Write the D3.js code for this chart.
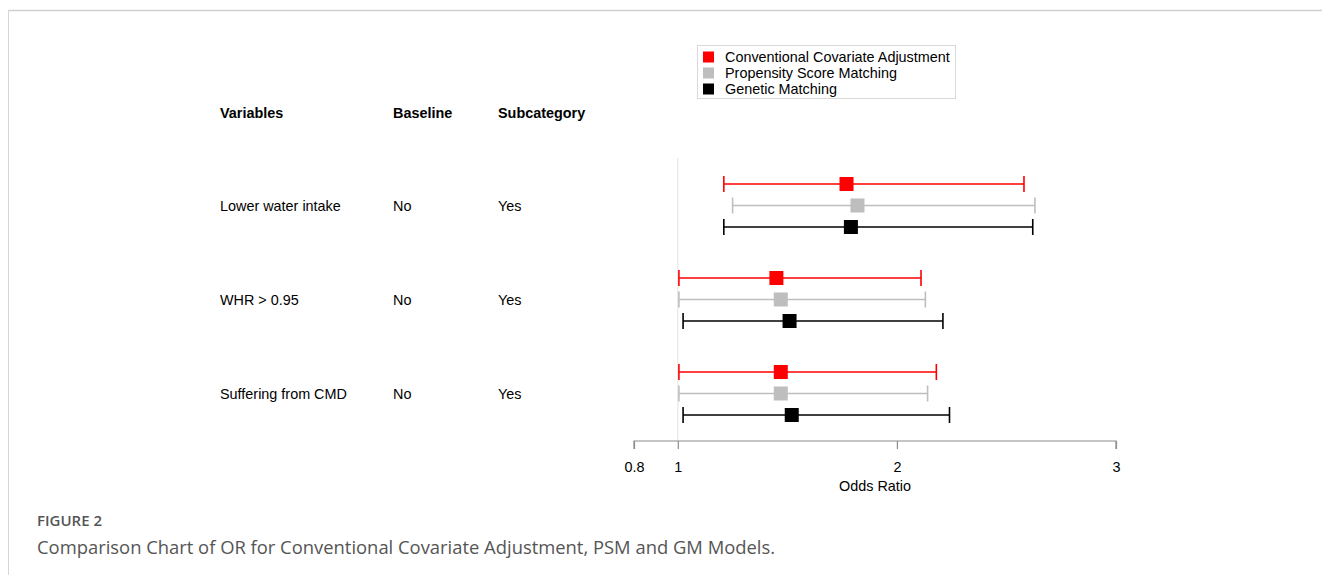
<!DOCTYPE html>
<html>
<head>
<meta charset="utf-8">
<script src="https://cdn.jsdelivr.net/npm/d3@7"></script>
<style>
  html, body { margin: 0; padding: 0; background: #fff; }
  svg { display: block; }
</style>
</head>
<body>
<svg id="chart" width="1322" height="575"></svg>
<script>
// ---------------- data ----------------
const variables   = ["Lower water intake", "WHR > 0.95", "Suffering from CMD"];
const baselines   = ["No", "No", "No"];
const subcats     = ["Yes", "Yes", "Yes"];
const seriesNames = ["Conventional Covariate Adjustment", "Propensity Score Matching", "Genetic Matching"];
// odds ratio point estimates per series (order of variables)
const orCCA   = [1.77, 1.45, 1.47];
const orPSM   = [1.82, 1.47, 1.47];
const orGM    = [1.79, 1.51, 1.52];
// lower 95% CI
const lowCCA  = [1.21, 1.005, 1.005];
const lowPSM  = [1.25, 1.005, 1.005];
const lowGM   = [1.21, 1.024, 1.024];
// upper 95% CI
const highCCA = [2.58, 2.11, 2.18];
const highPSM = [2.63, 2.13, 2.14];
const highGM  = [2.62, 2.21, 2.24];
const tickValues = [0.8, 1, 2, 3];
const headers = ["Variables", "Baseline", "Subcategory"];
const axisTitle = "Odds Ratio";
const figLabel = "FIGURE 2";
const caption = "Comparison Chart of OR for Conventional Covariate Adjustment, PSM and GM Models.";

// ---------------- build ----------------
const seriesColors = ["#ff0000", "#bebebe", "#000000"];
const estimates = [orCCA, orPSM, orGM];
const lows = [lowCCA, lowPSM, lowGM];
const highs = [highCCA, highPSM, highGM];

const rows = [];
variables.forEach((v, i) => {
  seriesNames.forEach((s, j) => {
    rows.push({ variable: v, series: s, color: seriesColors[j],
                or: estimates[j][i], lo: lows[j][i], hi: highs[j][i] });
  });
});

const svg = d3.select("#chart");
const FONT = "'Liberation Sans', Arial, Helvetica, sans-serif";
const FS = 14.4;

// page frame
svg.append("line").attr("x1", 8).attr("x2", 1322).attr("y1", 10.5).attr("y2", 10.5)
  .attr("stroke", "#cfcfcf").attr("stroke-width", 1.5);
svg.append("line").attr("x1", 8.5).attr("x2", 8.5).attr("y1", 10).attr("y2", 575)
  .attr("stroke", "#d6d6d6").attr("stroke-width", 1);

const x = d3.scaleLinear().domain([0.8, 3]).range([634, 1116]);
const yVar = d3.scalePoint().domain(variables).range([206, 394]);
const ySer = d3.scalePoint().domain(seriesNames).range([-22, 21]);

// column text positions
const colX = { var: 220, base: 393, sub: 498 };

// headers
const hdrX = [colX.var, colX.base, colX.sub];
svg.append("g").selectAll("text").data(headers).join("text")
  .attr("x", (d, i) => hdrX[i]).attr("y", 113).attr("dy", "0.35em")
  .attr("font-family", FONT).attr("font-size", FS).attr("font-weight", "bold")
  .attr("fill", "#000").text(d => d);

// row texts
const rowG = svg.append("g");
variables.forEach((v, i) => {
  const yy = yVar(v);
  [[colX.var, v], [colX.base, baselines[i]], [colX.sub, subcats[i]]].forEach(([xx, t]) => {
    rowG.append("text").attr("x", xx).attr("y", yy).attr("dy", "0.35em")
      .attr("font-family", FONT).attr("font-size", FS).attr("fill", "#000").text(t);
  });
});

// reference line at OR = 1
svg.append("line").attr("x1", x(1)).attr("x2", x(1)).attr("y1", 158).attr("y2", 441)
  .attr("stroke", "#e3e3e3").attr("stroke-width", 1);

// axis
const axisG = svg.append("g").attr("transform", "translate(0,441)")
  .call(d3.axisBottom(x).tickValues(tickValues).tickFormat(d3.format("~g"))
        .tickSize(8).tickSizeOuter(0).tickPadding(13));
axisG.select(".domain").attr("stroke", "#8c8c8c").attr("stroke-width", 1.2);
axisG.selectAll(".tick line").attr("stroke", "#8c8c8c").attr("stroke-width", 1.2);
axisG.selectAll(".tick text").attr("font-family", FONT).attr("font-size", FS).attr("fill", "#000");
axisG.selectAll(".domain").attr("d", `M${x(0.8)},8V0H${x(3)}V8`);

svg.append("text").attr("x", (x(0.8) + x(3)) / 2).attr("y", 486).attr("dy", "0.35em")
  .attr("text-anchor", "middle").attr("font-family", FONT).attr("font-size", FS)
  .attr("fill", "#000").text(axisTitle);

// CI lines
const cap = 8, sq = 14;
const marks = svg.append("g");
const g = marks.selectAll("g.ci").data(rows).join("g").attr("class", "ci")
  .attr("transform", d => `translate(0,${yVar(d.variable) + ySer(d.series)})`);
g.append("line").attr("x1", d => x(d.lo)).attr("x2", d => x(d.hi)).attr("y1", 0).attr("y2", 0)
  .attr("stroke", d => d.color).attr("stroke-width", 1.4);
g.append("line").attr("x1", d => x(d.lo)).attr("x2", d => x(d.lo)).attr("y1", -cap).attr("y2", cap)
  .attr("stroke", d => d.color).attr("stroke-width", 1.6);
g.append("line").attr("x1", d => x(d.hi)).attr("x2", d => x(d.hi)).attr("y1", -cap).attr("y2", cap)
  .attr("stroke", d => d.color).attr("stroke-width", 1.6);
g.append("rect").attr("x", d => x(d.or) - sq / 2).attr("y", -sq / 2)
  .attr("width", sq).attr("height", sq).attr("fill", d => d.color);

// legend
const leg = svg.append("g");
leg.append("rect").attr("x", 697.5).attr("y", 45.5).attr("width", 258).attr("height", 53)
  .attr("fill", "#fff").attr("stroke", "#d9d9d9").attr("stroke-width", 1);
const legY = d3.scalePoint().domain(seriesNames).range([57, 89]);
seriesNames.forEach((s, j) => {
  leg.append("rect").attr("x", 703).attr("y", legY(s) - 5.5).attr("width", 11).attr("height", 11)
    .attr("fill", seriesColors[j]);
  leg.append("text").attr("x", 725).attr("y", legY(s)).attr("dy", "0.35em")
    .attr("font-family", FONT).attr("font-size", FS).attr("fill", "#000").text(s);
});

// caption
svg.append("text").attr("x", 37).attr("y", 526)
  .attr("font-family", "'Open Sans', 'Noto Sans', sans-serif").attr("font-size", 15)
  .attr("font-weight", 600).attr("fill", "#555").text(figLabel);
svg.append("text").attr("x", 37).attr("y", 554)
  .attr("font-family", "'Open Sans', 'Noto Sans', sans-serif").attr("font-size", 18.4)
  .attr("font-weight", 400).attr("fill", "#555").text(caption);
</script>
</body>
</html>
